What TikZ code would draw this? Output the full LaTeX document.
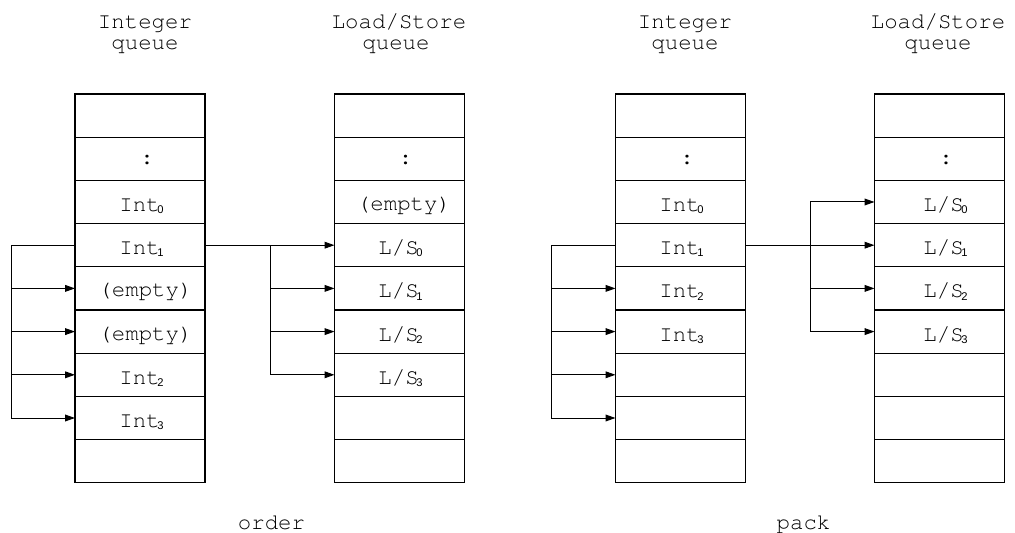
\documentclass[tikz,border=0pt]{standalone}
\usepackage{fontspec}
\usetikzlibrary{arrows.meta}
\newfontfamily\qsub{Liberation Sans}
% Courier (URW) through the classic font selection scheme
\newcommand\qmono{\fontencoding{T1}\fontfamily{pcr}\fontseries{m}\fontshape{n}}
% small lowered index digit after a queue entry name
\newcommand\idx[1]{\kern-1.2pt\raisebox{-1.1pt}{\qsub\fontsize{5.6}{6}\selectfont#1}}

\begin{document}
\begin{tikzpicture}[x=0.5pt,y=-0.5pt,
  cell/.style={draw,line width=0.6pt,minimum width=65pt,minimum height=21.6pt,
               inner sep=0pt,outer sep=0pt},
  txt/.style={font=\qmono\fontsize{11.2}{12}\selectfont,inner sep=0pt,anchor=base},
  link/.style={line width=0.5pt},
  arr/.style={link,-{Triangle[length=5pt,width=3.4pt]}},
  arrs/.style={link,{Triangle[length=5pt,width=3.4pt]}-{Triangle[length=5pt,width=3.4pt]}}]
\useasboundingbox (0,0) rectangle (1015,533);

% ---- queue slots (9 per queue) ----
\foreach \i in {0,...,8}{
  \node[cell] (LI\i) at (140,  {115.6+43.2*\i}) {};
  \node[cell] (LS\i) at (399.5,{115.6+43.2*\i}) {};
  \node[cell] (RI\i) at (680.5,{115.6+43.2*\i}) {};
  \node[cell] (RS\i) at (939.5,{115.6+43.2*\i}) {};
}

% ---- slot contents: row / text / x offset / baseline offset ----
\foreach \i/\t/\dx/\dy in {1/{:}/7/6, 2/{Int\idx{0}}/1.5/9.5, 3/{Int\idx{1}}/1.5/9.5,
    4/{(empty)}/5.5/8.5, 5/{(empty)}/5.5/8.5, 6/{Int\idx{2}}/1.5/9.5, 7/{Int\idx{3}}/1.5/9.5}
  \path (LI\i.center) ++(\dx,\dy) node[txt] (LIt\i) {\t};

\foreach \i/\t/\dx/\dy in {1/{:}/6/6, 2/{(empty)}/4.5/8.5, 3/{L/S\idx{0}}/1/9.5,
    4/{L/S\idx{1}}/1/9.5, 5/{L/S\idx{2}}/1/9.5, 6/{L/S\idx{3}}/1/9.5}
  \path (LS\i.center) ++(\dx,\dy) node[txt] (LSt\i) {\t};

\foreach \i/\t/\dx/\dy in {1/{:}/6.5/6, 2/{Int\idx{0}}/1/9.5, 3/{Int\idx{1}}/1/9.5,
    4/{Int\idx{2}}/1/9.5, 5/{Int\idx{3}}/1/9.5}
  \path (RI\i.center) ++(\dx,\dy) node[txt] (RIt\i) {\t};

\foreach \i/\t/\dx/\dy in {1/{:}/6.5/6, 2/{L/S\idx{0}}/6/9.5, 3/{L/S\idx{1}}/6/9.5,
    4/{L/S\idx{2}}/6/9.5, 5/{L/S\idx{3}}/6/9.5}
  \path (RS\i.center) ++(\dx,\dy) node[txt] (RSt\i) {\t};

% ---- queue titles ----
\node[txt] (tLIa) at (145,29) {Integer};
\node[txt] (tLIb) at (145,50) {queue};
\node[txt] (tLSa) at (399,29) {Load/Store};
\node[txt] (tLSb) at (396,50) {queue};
\node[txt] (tRIa) at (685,29) {Integer};
\node[txt] (tRIb) at (685,50) {queue};
\node[txt] (tRSa) at (938,29) {Load/Store};
\node[txt] (tRSb) at (938,50) {queue};

% ---- captions ----
\node[txt] (cOrder) at (271.5,529) {order};
\node[txt] (cPack)  at (803.5,529) {pack};

% ---- order: integer entry spread down the integer queue ----
\coordinate (lbus) at ([xshift=-32pt]LI3.west);
\draw[arr] (LI3.west) -- (lbus) |- (LI7.west);
\foreach \r in {4,5,6}
  \draw[arr] (lbus |- LI\r.west) -- (LI\r.west);

% ---- order: integer entry to load/store slots ----
\draw[arr] (LI3.east) -- (LS3.west);
\coordinate (mbus) at ([xshift=32.5pt]LI3.east);
\draw[arr] (mbus) |- (LS6.west);
\foreach \r in {4,5}
  \draw[arr] (mbus |- LS\r.west) -- (LS\r.west);

% ---- pack: integer entry spread down the integer queue ----
\coordinate (rbus) at ([xshift=-32.25pt]RI3.west);
\draw[arr] (RI3.west) -- (rbus) |- (RI7.west);
\foreach \r in {4,5,6}
  \draw[arr] (rbus |- RI\r.west) -- (RI\r.west);

% ---- pack: integer entry to load/store slots ----
\draw[arr] (RI3.east) -- (RS3.west);
\coordinate (pbus) at ([xshift=32.25pt]RI3.east);
\draw[arrs] (RS2.west) -| (pbus |- RS5.west) -- (RS5.west);
\draw[arr] (pbus |- RS4.west) -- (RS4.west);
\end{tikzpicture}
\end{document}
